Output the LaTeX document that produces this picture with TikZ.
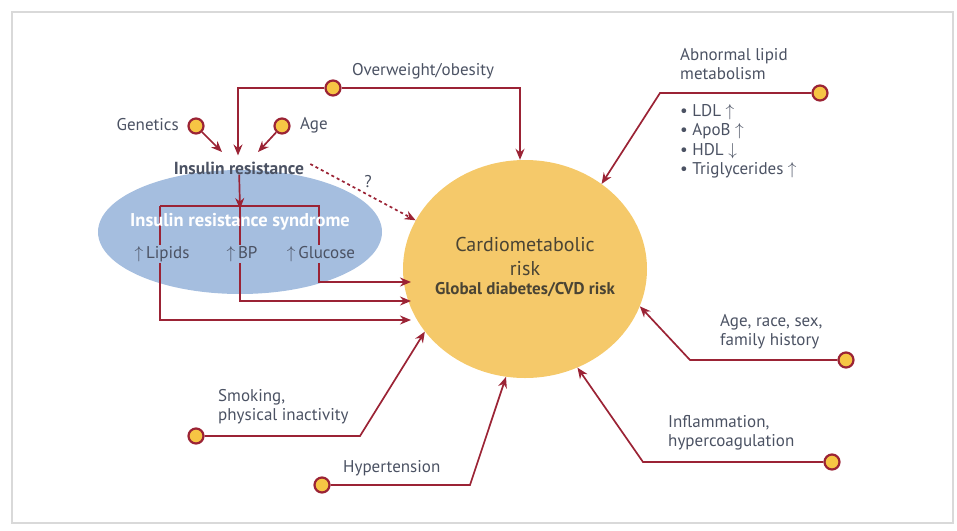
\documentclass[tikz,border=0pt]{standalone}
\usepackage{fontspec}
\setmainfont{PT Sans}
\usetikzlibrary{shapes.geometric,arrows.meta}

\definecolor{maroon}{HTML}{9B2335}
\definecolor{skyblue}{HTML}{A5BEDF}
\definecolor{riskyellow}{HTML}{F5C96A}
\definecolor{dotyellow}{HTML}{F6C544}
\definecolor{txtgray}{HTML}{4B5263}
\definecolor{risktxt}{HTML}{4A4434}

\begin{document}
\begin{tikzpicture}[x=1pt,y=-1pt,
  link/.style={draw=maroon,line width=1.7pt,->,>={Stealth[length=11pt,width=9pt]}},
  dot/.style={draw=maroon,circle,fill=dotyellow,line width=2.2pt,minimum size=15pt,inner sep=0pt},
  lbl/.style={text=txtgray,font=\fontsize{17}{19.5}\selectfont,inner sep=0pt,align=left}]
			\useasboundingbox (0,0) rectangle (957,530);
			\draw[gray!30,line width=2pt] (12,12) rectangle (953,523);
			% ellipses
			\node[draw=none,ellipse,fill=skyblue,minimum width=284pt,minimum height=124pt] (irs)at(240,232) {};
			\node[draw=none,ellipse,fill=riskyellow,minimum width=244pt,minimum height=218pt] (risk)at(525,269) {};
			% dots
			\node[dot] (ow)at(333,88) {};
			\node[dot] (gen)at(196,126) {};
			\node[dot] (age)at(282,126) {};
			\node[dot] (lip)at(820,93) {};
			\node[dot] (arsf)at(846,360) {};
			\node[dot] (infl)at(832,462) {};
			\node[dot] (smk)at(196,436) {};
			\node[dot] (hyp)at(322,485) {};
			% bends
			\coordinate (owL)at(238,88);
			\coordinate (lipB)at(660,93);
			\coordinate (arsfB)at(690,360);
			\coordinate (inflB)at(643,462);
			\coordinate (smkB)at(360,436);
			\coordinate (hypB)at(470,485);
			\coordinate (brk)at(240,206);
			\coordinate (brkL)at(160,206);
			\coordinate (brkR)at(319,206);
			\coordinate (lipE)at(411,320);
			\coordinate (bpE)at(411,301);
			\coordinate (gluE)at(411,282);
			% texts
			\node[lbl,anchor=west] (owT)at(352,71) {Overweight/obesity};
			\node[lbl,anchor=east] (genT)at(179,125) {Genetics};
			\node[lbl,anchor=west] (ageT)at(300,125) {Age};
			\node[lbl,anchor=north west] (lipT)at(680,48) {Abnormal lipid\\metabolism};
			\node[lbl,anchor=north west] (lipL)at(680,104) {{\textbullet} LDL $\uparrow$\\{\textbullet} ApoB $\uparrow$\\{\textbullet} HDL $\downarrow$\\{\textbullet} Triglycerides $\uparrow$};
			\node[lbl,anchor=north west] (arsfT)at(720,314) {Age, race, sex,\\family history};
			\node[lbl,anchor=north west] (inflT)at(668,415) {Inflammation,\\hypercoagulation};
			\node[lbl,anchor=north west] (smkT)at(218,389) {Smoking,\\physical inactivity};
			\node[lbl,anchor=west] (hypT)at(343,468) {Hypertension};
			\node[lbl,font=\bfseries\fontsize{17.5}{20}\selectfont] (ir)at(239,168) {Insulin resistance};
			\node[lbl] (q)at(368,182) {?};
			% links
			\draw[link] (ow) -- (owL) -- ([yshift=6pt]ir.north -| owL);
			\draw[link] (ow) -| ([xshift=-5pt]risk.north);
			\draw[link] (gen) -- (222,152);
			\draw[link] (age) -- (258,152);
			\draw[link] (ir) -- ([yshift=-3pt]brk);
			\draw[link,dashed] ([xshift=6pt,yshift=4pt]ir.east) -- (risk.156);
			\draw[link] (lip) -- (lipB) -- (risk.48);
			\draw[link] (arsf) -- (arsfB) -- (risk.-18);
			\draw[link] (infl) -- (inflB) -- (risk.-62);
			\draw[link] (smk) -- (smkB) -- (risk.-148);
			\draw[link] (hyp) -- (hypB) -- (risk.-100);
			\draw[link] (brkL) |- (lipE);
			\draw[link] (brk) |- (bpE);
			\draw[link] (brkL) -- (brkR) |- (gluE);
			% ellipse texts
			\node[font=\bfseries\fontsize{18.5}{21}\selectfont,text=white,inner sep=0pt] (irsT)at(240,222) {Insulin resistance syndrome};
			\node[lbl,fill=skyblue,inner sep=1pt] (lipids)at(162,254) {$\uparrow$\,Lipids};
			\node[lbl,fill=skyblue,inner sep=1pt] (bp)at(242,254) {$\uparrow$\,BP};
			\node[lbl,fill=skyblue,inner sep=1pt] (glu)at(321,254) {$\uparrow$\,Glucose};
			\node[text=risktxt,font=\fontsize{20}{24}\selectfont,align=center,inner sep=0pt] (riskT)at(525,256) {Cardiometabolic\\risk};
			\node[text=risktxt,font=\bfseries\fontsize{17}{20}\selectfont,inner sep=0pt] (globT)at(525,290) {Global diabetes/CVD risk};
\end{tikzpicture}
\end{document}
